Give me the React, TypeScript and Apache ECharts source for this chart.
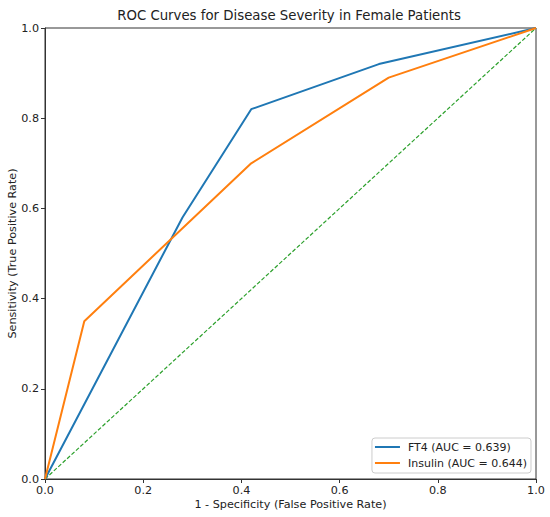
import React, { useEffect, useRef } from "react";
import * as echarts from "echarts";

const ft4FPR = [0, 0.28, 0.42, 0.68, 1];
const ft4TPR = [0, 0.58, 0.82, 0.92, 1];
const insFPR = [0, 0.08, 0.42, 0.7, 1];
const insTPR = [0, 0.35, 0.7, 0.89, 1];
const diagX = [0, 1];
const diagY = [0, 1];
const ft4Name = "FT4 (AUC = 0.639)";
const insName = "Insulin (AUC = 0.644)";

const FONT = "DejaVu Sans";

export default function App() {
  const ref = useRef<HTMLDivElement>(null);
  useEffect(() => {
    if (!ref.current) return;
    const chart = echarts.init(ref.current, undefined, { renderer: "svg" });
    const zip = (xs: number[], ys: number[]) => xs.map((x, i) => [x, ys[i]]);
    const axisCommon = {
      type: "value" as const,
      min: 0,
      max: 1,
      interval: 0.2,
      splitLine: { show: false },
      axisLine: { show: true, lineStyle: { color: "#333", width: 1 } },
      axisTick: { show: true, length: 4, inside: false, lineStyle: { color: "#333" } },
      axisLabel: {
        fontFamily: FONT,
        fontSize: 11.2,
        color: "#222",
        margin: 6,
        formatter: (v: number) => v.toFixed(1),
      },
      nameMoveOverlap: false,
      nameTextStyle: { fontFamily: FONT, fontSize: 11.2, color: "#222" },
    };
    chart.setOption({
      animation: false,
      backgroundColor: "#fff",
      title: {
        text: "ROC Curves for Disease Severity in Female Patients",
        left: 284,
        textAlign: "center",
        top: 4,
        textStyle: { fontFamily: FONT, fontSize: 13.3, fontWeight: "normal", color: "#222" },
      },
      grid: {
        left: 45,
        right: 14,
        top: 28,
        bottom: 38,
        outerBoundsMode: "none",
        containLabel: false,
        show: true,
        borderColor: "#333",
        borderWidth: 1,
        backgroundColor: "transparent",
      },
      xAxis: {
        ...axisCommon,
        name: "1 - Specificity (False Positive Rate)",
        nameLocation: "middle",
        nameGap: 20,
      },
      yAxis: {
        ...axisCommon,
        name: "Sensitivity (True Positive Rate)",
        nameLocation: "middle",
        nameGap: 27,
      },
      legend: {
        data: [ft4Name, insName],
        orient: "vertical",
        right: 19,
        bottom: 44,
        itemWidth: 25,
        itemHeight: 2,
        itemGap: 2,
        icon: "rect",
        padding: [2, 4, 3, 3],
        borderColor: "#ccc",
        borderWidth: 1,
        borderRadius: 3,
        backgroundColor: "rgba(255,255,255,0.8)",
        textStyle: {
          fontFamily: FONT,
          fontSize: 11,
          color: "#222",
          lineHeight: 14,
          padding: [0, 0, 0, 3],
        },
      },
      series: [
        {
          name: ft4Name,
          type: "line",
          data: zip(ft4FPR, ft4TPR),
          showSymbol: false,
          symbol: "none",
          lineStyle: { color: "#1f77b4", width: 2 },
          itemStyle: { color: "#1f77b4" },
          z: 3,
        },
        {
          name: insName,
          type: "line",
          data: zip(insFPR, insTPR),
          showSymbol: false,
          symbol: "none",
          lineStyle: { color: "#ff7f0e", width: 2 },
          itemStyle: { color: "#ff7f0e" },
          z: 4,
        },
        {
          name: "diag",
          type: "line",
          data: zip(diagX, diagY),
          showSymbol: false,
          symbol: "none",
          lineStyle: { color: "#2ca02c", width: 1.2, type: [4, 2] },
          itemStyle: { color: "#2ca02c" },
          z: 2,
        },
      ],
    });
    return () => chart.dispose();
  }, []);
  return (
    <div
      ref={ref}
      style={{ position: "absolute", left: 0, top: 0, width: 550, height: 517 }}
    />
  );
}
